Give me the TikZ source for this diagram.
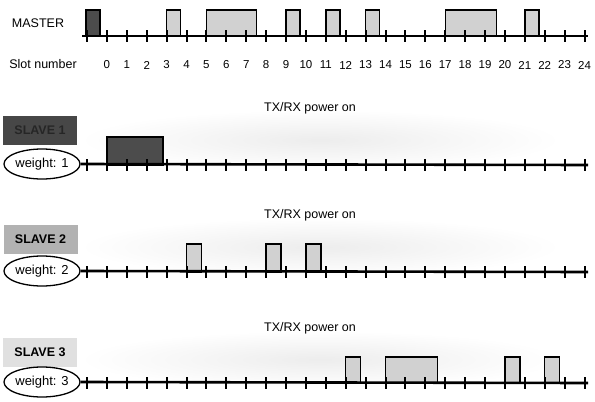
\documentclass[tikz,border=0pt]{standalone}
\usepackage{fontspec}
\setmainfont{Liberation Sans}
\usetikzlibrary{shapes.geometric, fadings}

\tikzfading[name=powerfade, inner color=transparent!20, outer color=transparent!100]

\tikzset{
  timeline/.style={line width=2.6pt},
  slottick/.style={line width=2pt},
  darkslot/.style={fill=black!70, draw=black, line width=1.4pt},
  lightslot/.style={fill=black!18, draw=black, line width=1.4pt},
  powerarea/.style={fill=black!9, path fading=powerfade},
  weightbox/.style={ellipse, draw=black, line width=1.3pt, fill=white,
    minimum width=76pt, minimum height=30pt, inner sep=0pt,
    font=\fontsize{13}{15}\selectfont},
  slavebox/.style={minimum width=74pt, minimum height=29pt, inner sep=0pt,
    font=\bfseries\fontsize{12.5}{15}\selectfont},
  lbl/.style={font=\fontsize{12.5}{15}\selectfont},
  numlbl/.style={font=\fontsize{11.5}{14}\selectfont},
}

\begin{document}
\begin{tikzpicture}[x=1pt, y=-1pt]
    \useasboundingbox (0,0) rectangle (595,402);

    % Faint power-on areas behind the slave lines
    \fill[powerarea] (80,110) rectangle (560,170);
    \fill[powerarea] (80,218) rectangle (560,276);
    \fill[powerarea] (80,331) rectangle (560,388);

    % Master line, slots and labels
    \node[lbl] (master) at (38,23) {MASTER};
    \coordinate (mstart) at (82,36);
    \coordinate (mend) at (588,36);
    \filldraw[darkslot] (86,10) rectangle ++(14,26);
    \foreach \n/\w in {3/14, 5/50, 9/14, 11/14, 13/14, 17/51, 21/14}
        \filldraw[lightslot] ({106.9+19.9*\n},10) rectangle ++(\w,26);
    \draw[timeline] (mstart) -- (mend);
    \foreach \k in {0,...,25}
        \draw[slottick] ({87+19.9*\k},30) -- ++(0,12);

    % Slot numbers
    \node[lbl] (slotnum) at (43,64) {Slot number};
    \foreach \n in {0,...,24}
        \node[numlbl] (s\n) at ({106.9+19.9*\n},65) {\n};

    % Slave 1
    \node[slavebox, fill=black!72] (slave1) at (40,130) {\textcolor{black!85}{SLAVE 1}};
    \node[weightbox] (w1) at (42,164) {weight: 1};
    \node[lbl] (tx1) at (310,108) {TX/RX power on};
    \coordinate (end1) at (588,165);
    \filldraw[darkslot] (106.9,137) rectangle (163,165);
    \draw[timeline] (w1.east) -- (end1);
    \foreach \k in {0,...,25}
        \draw[slottick] ({87+19.9*\k},159) -- ++(0,12);

    % Slave 2
    \node[slavebox, fill=black!30] (slave2) at (40.5,239) {SLAVE 2};
    \node[weightbox] (w2) at (42,271) {weight: 2};
    \node[lbl] (tx2) at (310,215) {TX/RX power on};
    \coordinate (end2) at (588,272);
    \foreach \n in {4, 8, 10}
        \filldraw[lightslot] ({106.9+19.9*\n},244) rectangle ++(15,28);
    \draw[timeline] (w2.east) -- (end2);
    \foreach \k in {0,...,25}
        \draw[slottick] ({87+19.9*\k},266) -- ++(0,12);

    % Slave 3
    \node[slavebox, fill=black!12] (slave3) at (40,352) {SLAVE 3};
    \node[weightbox] (w3) at (42,382) {weight: 3};
    \node[lbl] (tx3) at (310,328) {TX/RX power on};
    \coordinate (end3) at (588,383);
    \foreach \n/\w in {12/15, 14/52, 20/15, 22/15}
        \filldraw[lightslot] ({106.9+19.9*\n},357) rectangle ++(\w,26);
    \draw[timeline] (w3.east) -- (end3);
    \foreach \k in {0,...,25}
        \draw[slottick] ({87+19.9*\k},377) -- ++(0,12);

\end{tikzpicture}
\end{document}
